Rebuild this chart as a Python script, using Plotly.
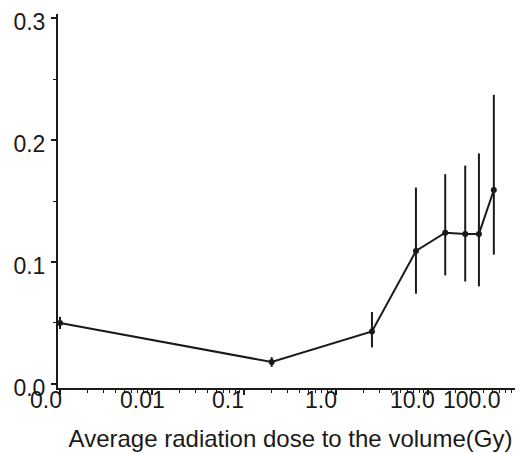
import plotly.graph_objects as go
import math

# Data
dose_gy = [0.001, 0.2, 2.46, 7.4, 15.4, 25.4, 35.8, 52.0]
rate = [0.050, 0.018, 0.043, 0.109, 0.124, 0.123, 0.123, 0.159]
err_plus = [0.005, 0.004, 0.016, 0.052, 0.048, 0.056, 0.066, 0.078]
err_minus = [0.005, 0.004, 0.013, 0.035, 0.035, 0.039, 0.043, 0.053]

x_tickvals = [0.001, 0.01, 0.1, 1, 10, 100]
x_ticktext = ["0.0", "0.01", "0.1", "1.0", "10.0", "100.0"]
x_label_shift = [-14, -10, -16, -15, -15, -48]
y_tickvals = [0.0, 0.1, 0.2, 0.3]
y_ticktext = ["0.0", "0.1", "0.2", "0.3"]

FONT = "Liberation Sans, Arial, sans-serif"
INK = "#1a1a1a"

fig = go.Figure()
fig.add_trace(go.Scatter(
    x=dose_gy, y=rate, mode="lines+markers",
    line=dict(color=INK, width=2),
    marker=dict(color=INK, size=6, symbol="circle"),
    error_y=dict(type="data", symmetric=False, array=err_plus, arrayminus=err_minus,
                 color=INK, thickness=2, width=0),
    cliponaxis=False,
    showlegend=False,
))

annotations = []
for v, t, s in zip(x_tickvals, x_ticktext, x_label_shift):
    annotations.append(dict(
        x=math.log10(v), xref="x", y=0, yref="paper", yanchor="top",
        text=t, showarrow=False, xshift=s, yshift=3,
        font=dict(family=FONT, size=23, color=INK),
    ))

fig.update_layout(
    width=523, height=454,
    margin=dict(l=50, r=8, t=6, b=74),
    paper_bgcolor="white", plot_bgcolor="white",
    font=dict(family=FONT, size=24, color=INK),
    annotations=annotations,
    xaxis=dict(
        type="log", range=[-3.022, 2.033], automargin=False,
        tickvals=x_tickvals, showticklabels=False,
        ticks="outside", ticklen=5, tickwidth=1.5, tickcolor=INK,
        minor=dict(ticks="outside", ticklen=3, tickwidth=1, tickcolor=INK, dtick="D1", showgrid=False),
        showline=True, linecolor=INK, linewidth=2,
        showgrid=False, zeroline=False,
        title=dict(text="Average radiation dose to the volume(Gy)", font=dict(size=24), standoff=36),
    ),
    yaxis=dict(
        range=[-0.0033, 0.3033], automargin=False,
        tickvals=y_tickvals, ticktext=y_ticktext,
        ticks="outside", ticklen=5, tickwidth=1.5, tickcolor=INK,
        minor=dict(ticks="outside", ticklen=3, tickwidth=1, tickcolor=INK, dtick=0.05, showgrid=False),
        showline=True, linecolor=INK, linewidth=2,
        showgrid=False, zeroline=False,
        tickfont=dict(size=23), ticklabelshift=4, ticklabelstandoff=1,
        ticklabeloverflow="allow",
    ),
)

fig.write_html("out.html")
